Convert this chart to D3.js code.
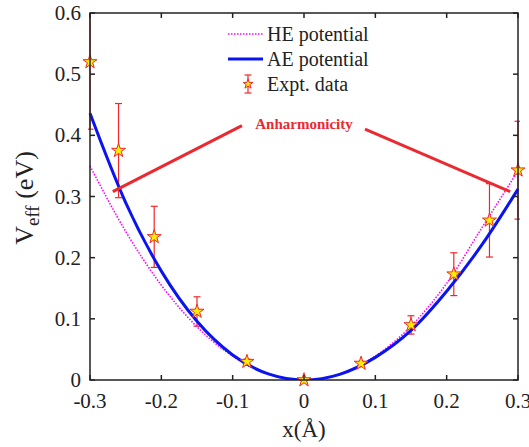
<!DOCTYPE html>
<html>
<head>
  <script src="https://d3js.org/d3.v7.min.js"></script>
  <style>
    body { margin: 0; background: #fff; }
    svg text { font-family: "Liberation Serif", "Tinos", "Times New Roman", serif; fill: #222; }
  </style>
</head>
<body>
  <svg id="chart" width="529" height="447"></svg>
  <script>
    // data
    const curveX = [-0.3, -0.25, -0.2, -0.15, -0.1, -0.05, 0, 0.05, 0.1, 0.15, 0.2, 0.25, 0.3];
    const heValues = [0.350, 0.243, 0.155, 0.087, 0.039, 0.0097, 0, 0.0097, 0.039, 0.088, 0.158, 0.250, 0.342];
    const aeValues = [0.436, 0.290, 0.178, 0.096, 0.041, 0.0099, 0, 0.0093, 0.037, 0.081, 0.145, 0.222, 0.312];

    const exptX = [-0.3, -0.26, -0.21, -0.15, -0.08, 0, 0.08, 0.15, 0.21, 0.26, 0.3];
    const exptY = [0.52, 0.375, 0.234, 0.112, 0.030, 0, 0.027, 0.090, 0.173, 0.261, 0.343];
    const exptErr = [0.11, 0.077, 0.05, 0.024, 0.004, 0, 0.003, 0.015, 0.035, 0.06, 0.08];

    const xTicks = [-0.3, -0.2, -0.1, 0, 0.1, 0.2, 0.3];
    const yTicks = [0, 0.1, 0.2, 0.3, 0.4, 0.5, 0.6];

    const annotText = "Anharmonicity";
    const annotPos = [0.0, 0.411];
    const annotLines = [
      [[-0.268, 0.308], [-0.087, 0.416]],
      [[0.0855, 0.410], [0.289, 0.308]]
    ];

    const legendItems = ["HE potential", "AE potential", "Expt. data"];

    const svg = d3.select("#chart");
    const margin = { top: 13, right: 11, bottom: 67, left: 90 };
    const width = +svg.attr("width") - margin.left - margin.right;
    const height = +svg.attr("height") - margin.top - margin.bottom;
    const g = svg.append("g").attr("transform", `translate(${margin.left},${margin.top})`);

    const x = d3.scaleLinear().domain([-0.3, 0.3]).range([0, width]);
    const y = d3.scaleLinear().domain([0, 0.6]).range([height, 0]);

    svg.append("defs").append("clipPath").attr("id", "clip")
      .append("rect").attr("x", -2).attr("width", width + 4).attr("height", height);

    const line = d3.line()
      .x(d => x(d[0]))
      .y(d => y(d[1]))
      .curve(d3.curveMonotoneX);

    const plot = g.append("g").attr("clip-path", "url(#clip)");

    // error bars
    const capW = 3.5;
    const errG = plot.append("g").attr("stroke", "#f0272a").attr("stroke-width", 1.2).attr("fill", "none");
    exptX.forEach((xv, i) => {
      if (exptErr[i] <= 0) return;
      const lo = exptY[i] - exptErr[i], hi = exptY[i] + exptErr[i];
      errG.append("line").attr("x1", x(xv)).attr("x2", x(xv)).attr("y1", y(lo)).attr("y2", y(hi));
      errG.append("line").attr("x1", x(xv) - capW).attr("x2", x(xv) + capW).attr("y1", y(lo)).attr("y2", y(lo));
      errG.append("line").attr("x1", x(xv) - capW).attr("x2", x(xv) + capW).attr("y1", y(hi)).attr("y2", y(hi));
    });

    // HE (dotted magenta)
    plot.append("path")
      .datum(curveX.map((v, i) => [v, heValues[i]]))
      .attr("fill", "none")
      .attr("stroke", "#ff00ff")
      .attr("stroke-width", 1.6)
      .attr("stroke-dasharray", "1.5,1.5")
      .attr("d", line);

    // AE (solid blue)
    plot.append("path")
      .datum(curveX.map((v, i) => [v, aeValues[i]]))
      .attr("fill", "none")
      .attr("stroke", "#0a14f0")
      .attr("stroke-width", 3)
      .attr("d", line);

    // annotation
    annotLines.forEach(seg => {
      g.append("line")
        .attr("x1", x(seg[0][0])).attr("y1", y(seg[0][1]))
        .attr("x2", x(seg[1][0])).attr("y2", y(seg[1][1]))
        .attr("stroke", "#ea2a30").attr("stroke-width", 3);
    });
    g.append("text")
      .attr("x", x(annotPos[0])).attr("y", y(annotPos[1]))
      .attr("text-anchor", "middle")
      .style("font-size", "15px").style("font-weight", "bold").style("fill", "#ea2a30")
      .text(annotText);

    // stars
    const star = d3.symbol().type(d3.symbolStar).size(60);
    g.selectAll("path.star").data(exptX).join("path")
      .attr("class", "star")
      .attr("transform", (d, i) => `translate(${x(d)},${y(exptY[i])})`)
      .attr("d", star)
      .attr("fill", "#ffee00")
      .attr("stroke", "#f0272a")
      .attr("stroke-width", 1);

    // box and ticks
    const axisColor = "#222";
    g.append("rect").attr("width", width).attr("height", height)
      .attr("fill", "none").attr("stroke", axisColor).attr("stroke-width", 1.5);

    const tl = 5;
    const tickG = g.append("g").attr("stroke", axisColor).attr("stroke-width", 1.5);
    xTicks.forEach(t => {
      tickG.append("line").attr("x1", x(t)).attr("x2", x(t)).attr("y1", height).attr("y2", height - tl);
      tickG.append("line").attr("x1", x(t)).attr("x2", x(t)).attr("y1", 0).attr("y2", tl);
    });
    yTicks.forEach(t => {
      tickG.append("line").attr("x1", 0).attr("x2", tl).attr("y1", y(t)).attr("y2", y(t));
      tickG.append("line").attr("x1", width).attr("x2", width - tl).attr("y1", y(t)).attr("y2", y(t));
    });

    g.selectAll("text.xt").data(xTicks).join("text")
      .attr("class", "xt")
      .attr("x", d => x(d)).attr("y", height + 28)
      .attr("text-anchor", "middle")
      .style("font-size", "21px")
      .text(d => d === 0 ? "0" : d3.format(".1f")(d).replace("−", "-"));

    g.selectAll("text.yt").data(yTicks).join("text")
      .attr("class", "yt")
      .attr("x", -9).attr("y", d => y(d) + 7)
      .attr("text-anchor", "end")
      .style("font-size", "21px")
      .text(d => d === 0 ? "0" : d3.format(".1f")(d));

    // axis labels
    g.append("text")
      .attr("x", x(0)).attr("y", height + 57)
      .attr("text-anchor", "middle")
      .style("font-size", "23px")
      .text("x(Å)");

    const yl = svg.append("text")
      .attr("transform", `translate(33,${margin.top + 185}) rotate(-90)`)
      .attr("text-anchor", "middle")
      .style("font-size", "26px");
    yl.append("tspan").text("V");
    yl.append("tspan").attr("dy", 6).style("font-size", "19px").text("eff");
    yl.append("tspan").attr("dy", -6).text(" (eV)");

    // legend
    const leg = svg.append("g").attr("transform", "translate(228,34)");
    const rowH = 25;
    leg.append("line").attr("x1", 0).attr("x2", 35).attr("y1", 0).attr("y2", 0)
      .attr("stroke", "#ff00ff").attr("stroke-width", 1.6).attr("stroke-dasharray", "1.5,1.5");
    leg.append("line").attr("x1", 0).attr("x2", 35).attr("y1", rowH).attr("y2", rowH)
      .attr("stroke", "#0a14f0").attr("stroke-width", 3);
    const le = leg.append("g").attr("transform", `translate(20,${2 * rowH})`);
    le.append("line").attr("x1", 0).attr("x2", 0).attr("y1", -9).attr("y2", 9)
      .attr("stroke", "#f0272a").attr("stroke-width", 1.2);
    le.append("line").attr("x1", -capW).attr("x2", capW).attr("y1", -9).attr("y2", -9)
      .attr("stroke", "#f0272a").attr("stroke-width", 1.2);
    le.append("line").attr("x1", -capW).attr("x2", capW).attr("y1", 9).attr("y2", 9)
      .attr("stroke", "#f0272a").attr("stroke-width", 1.2);
    le.append("path").attr("d", d3.symbol().type(d3.symbolStar).size(30))
      .attr("fill", "#ffee00").attr("stroke", "#f0272a").attr("stroke-width", 1);
    leg.selectAll("text.lg").data(legendItems).join("text")
      .attr("class", "lg")
      .attr("x", 39).attr("y", (d, i) => i * rowH + 7)
      .style("font-size", "20px")
      .text(d => d);
  </script>
</body>
</html>
